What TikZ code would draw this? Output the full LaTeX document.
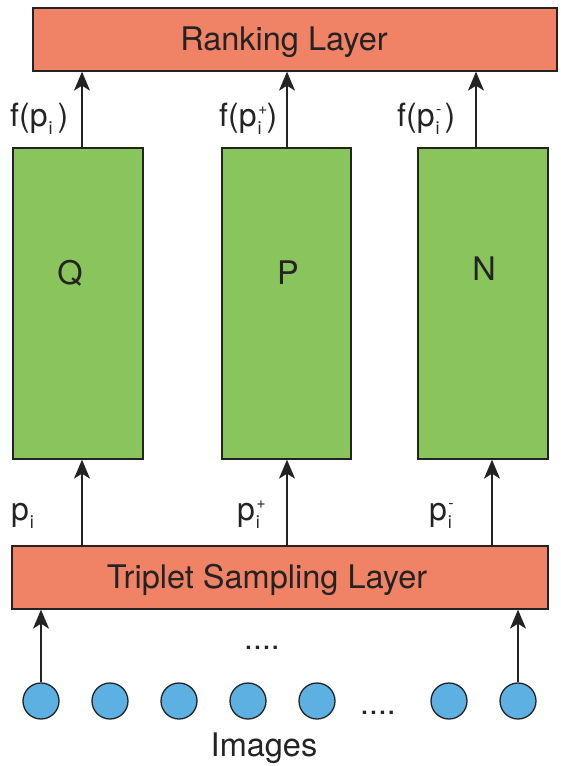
\documentclass[tikz,border=0pt]{standalone}
\usepackage{fontspec}
\setmainfont{TeX Gyre Heros}
\usetikzlibrary{arrows.meta}
\definecolor{layerred}{RGB}{240,130,102}
\definecolor{netgreen}{RGB}{137,197,92}
\definecolor{imgblue}{RGB}{92,176,226}
\definecolor{edge}{RGB}{35,35,35}

% p with a low subscript i and an optional mark stacked above it
\newcommand\pidx[1]{p\hbox to 10pt{\rlap{\raisebox{-8pt}{\fontsize{18}{18}\selectfont\hspace{1pt}i}}\raisebox{12pt}{\fontsize{16}{16}\selectfont\hspace{1.5pt}#1}\hss}}

\begin{document}
\begin{tikzpicture}[x=1pt,y=-1pt,
  layer/.style={draw=edge, line width=1.3pt, fill=layerred, inner sep=0pt},
  net/.style={draw=edge, line width=1.3pt, fill=netgreen, minimum width=130pt, minimum height=311pt, inner sep=0pt},
  img/.style={circle, draw=edge, line width=1.3pt, fill=imgblue, minimum size=36pt, inner sep=0pt},
  bigtext/.style={font=\fontsize{32.5}{38}\selectfont, inner sep=0pt, text=edge},
  lbl/.style={font=\fontsize{32}{38}\selectfont, inner sep=0pt, text=edge},
  arr/.style={-{Stealth[length=19pt,width=16pt,inset=5pt]}, line width=1.6pt, draw=edge}
]
\useasboundingbox (0,0) rectangle (561,766);

% layers
\node[layer, minimum width=524pt, minimum height=63pt] (rank) at (295,39.5) {};
\node[bigtext] (ranktext) at (284,42) {Ranking Layer};
\node[layer, minimum width=536pt, minimum height=63pt] (trip) at (280,577.5) {};
\node[bigtext] (triptext) at (267,580) {Triplet Sampling Layer};

% three sub-networks
\node[net] (Q) at (78,303.5) {};
\node[net, minimum width=129pt] (P) at (286.5,303.5) {};
\node[net] (N) at (483,303.5) {};
\node[bigtext] (Qt) at (70,273) {Q};
\node[bigtext] (Pt) at (288,273) {P};
\node[bigtext] (Nt) at (484,269) {N};

% network outputs
\draw[arr] (Q.north -| 82,0) -- (rank.south -| 82,0);
\draw[arr] (P.north -| 287,0) -- (rank.south -| 287,0);
\draw[arr] (N.north -| 476,0) -- (rank.south -| 476,0);
\node[lbl, anchor=base west] (fq) at (10,126) {f(\pidx{})};
\node[lbl, anchor=base west] (fp) at (219,126) {f(\pidx{+})};
\node[lbl, anchor=base west] (fn) at (397,126) {f(\pidx{-})};

% network inputs
\draw[arr] (trip.north -| 82,0) -- (Q.south -| 82,0);
\draw[arr] (trip.north -| 287,0) -- (P.south -| 287,0);
\draw[arr] (trip.north -| 492,0) -- (N.south -| 492,0);
\node[lbl, anchor=base west] (pq) at (11,520) {\pidx{}};
\node[lbl, anchor=base west] (pp) at (237,520) {\pidx{+}};
\node[lbl, anchor=base west] (pn) at (429,520) {\pidx{-}};

% images
\foreach \n/\x in {1/41,2/110,3/179,4/248,5/317,6/449,7/518}
  \node[img] (im\n) at (\x,701) {};
\node[lbl] (dotsA) at (262,648) {....};
\node[lbl] (dotsB) at (378,713) {....};
\node[bigtext] (imgs) at (264,748) {Images};
\draw[arr] (im1) -- (trip.south -| im1);
\draw[arr] (im7) -- (trip.south -| im7);
\end{tikzpicture}
\end{document}
